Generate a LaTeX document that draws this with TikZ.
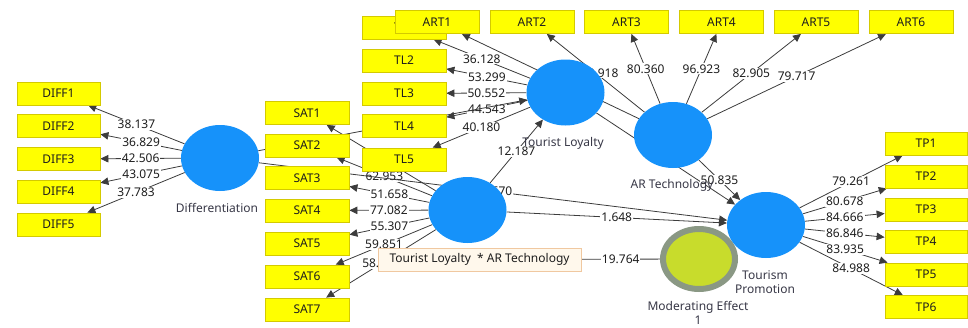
\documentclass[tikz,border=0pt]{standalone}
\usepackage{fontspec}
\setmainfont{Noto Sans}
\usetikzlibrary{arrows.meta,shapes.geometric}

\definecolor{indfill}{RGB}{255,255,0}
\definecolor{inddraw}{RGB}{212,202,0}
\definecolor{lvblue}{RGB}{22,146,250}
\definecolor{modfill}{RGB}{200,220,44}
\definecolor{modring}{RGB}{138,152,132}
\definecolor{tipfill}{RGB}{255,248,236}
\definecolor{tipdraw}{RGB}{240,200,160}
\definecolor{edgecol}{RGB}{60,60,60}
\definecolor{txtcol}{RGB}{30,30,30}
\definecolor{capcol}{RGB}{55,55,70}

\pgfdeclarelayer{edges}
\pgfdeclarelayer{circles}
\pgfdeclarelayer{captions}
\pgfsetlayers{edges,main,circles,captions}

\begin{document}
\begin{tikzpicture}[x=1pt,y=-1pt,
  font=\fontsize{12}{14}\selectfont,
  ind/.style={draw=inddraw, fill=indfill, line width=0.8pt,
    minimum width=84pt, minimum height=23pt, inner sep=0pt, text=txtcol},
  lv/.style={ellipse, fill=lvblue, minimum width=78pt, minimum height=66pt, inner sep=0pt},
  modlv/.style={ellipse, fill=modfill, draw=modring, line width=6pt,
    minimum width=72pt, minimum height=60pt, inner sep=0pt},
  tipbox/.style={draw=tipdraw, fill=tipfill, line width=0.8pt,
    minimum width=203pt, minimum height=23pt, inner sep=0pt, text=txtcol},
  lvcaption/.style={text=capcol, inner sep=0pt},
  link/.style={draw=edgecol, line width=0.8pt,
    -{Triangle[length=8pt,width=7.5pt]}},
  plainlink/.style={draw=edgecol, line width=0.8pt},
  val/.style={fill=white, inner sep=1pt, text=txtcol, pos=0.5}]

\useasboundingbox (0,0) rectangle (968,327);

% indicator boxes
\foreach \n/\y in {1/93.5,2/126,3/159,4/191.5,5/224.5}
  \node[ind, minimum width=83pt] (d\n) at (58.5,\y) {DIFF\n};
\foreach \n/\y in {1/113,2/145.5,3/178,4/210.5,5/243.5,6/276.5,7/309.5}
  \node[ind] (s\n) at (307,\y) {SAT\n};
\foreach \n/\y in {1/27.5,2/60.5,3/93.5,4/126,5/159.5}
  \node[ind] (t\n) at (404,\y) {TL\n};
\foreach \n/\x in {1/437,2/532,3/626.5,4/721.5,5/816,6/911}
  \node[ind] (a\n) at (\x,22) {ART\n};
\foreach \n/\y in {1/143.5,2/176.5,3/209.5,4/241.5,5/274.5,6/307}
  \node[ind, minimum width=82pt] (p\n) at (926,\y) {TP\n};

% interaction term box
\node[tipbox] (inter) at (479.5,259.5) {Tourist Loyalty\ \ * AR Technology};

% latent variables
\begin{pgfonlayer}{circles}
  \node[lv] (diff) at (220,158) {};
  \node[lv] (sat) at (467.5,210) {};
  \node[lv] (tl) at (565.5,92.5) {};
  \node[lv] (ar) at (673,135) {};
  \node[modlv] (mod) at (699,259) {};
  \node[lv] (tp) at (766,225) {};
\end{pgfonlayer}

% captions
\begin{pgfonlayer}{captions}
  \node[lvcaption] at (217,208) {Differentiation};
  \node[lvcaption] at (563,143) {Tourist Loyalty};
  \node[lvcaption] at (672,185) {AR Technology};
  \node[lvcaption] at (765,275) {Tourism};
  \node[lvcaption] at (765,289) {Promotion};
  \node[lvcaption] at (698,307) {Moderating Effect};
  \node[lvcaption] at (698,320) {1};
\end{pgfonlayer}

\begin{pgfonlayer}{edges}
  % outer loadings
  \foreach \n/\v in {1/38.137,2/36.829,3/42.506,4/43.075,5/37.783}
    \draw[link] (diff) -- node[val] {\v} (d\n);
  \draw[link] (sat) -- (s1);
  \foreach \n/\v in {2/62.953,3/51.658,4/77.082,5/55.307,6/59.851,7/58.416}
    \draw[link] (sat) -- node[val] {\v} (s\n);
  \foreach \n/\v in {1/36.128,2/53.299,3/50.552,4/44.543,5/40.180}
    \draw[link] (tl) -- node[val] {\v} (t\n);
  \draw[link] (ar) -- (a1);
  \draw[link] (ar) -- node[val, xshift=4pt] {33.918} (a2);
  \foreach \n/\v in {3/80.360,4/96.923,5/82.905,6/79.717}
    \draw[link] (ar) -- node[val] {\v} (a\n);
  \foreach \n/\v in {1/79.261,2/80.678,3/84.666,4/86.846,5/83.935,6/84.988}
    \draw[link] (tp) -- node[val] {\v} (p\n);
  % structural paths
  \draw[link] (diff) -- (tl);
  \draw[link] (diff) -- node[val, xshift=4pt] {0.670} (tp);
  \draw[link] (sat) -- node[val] {12.187} (tl);
  \draw[link] (sat) -- node[val] {1.648} (tp);
  \draw[link] (tl) -- (tp);
  \draw[link] (ar) -- node[val] {50.835} (tp);
  \draw[plainlink] (inter) -- node[val] {19.764} (mod);
\end{pgfonlayer}
\end{tikzpicture}
\end{document}
